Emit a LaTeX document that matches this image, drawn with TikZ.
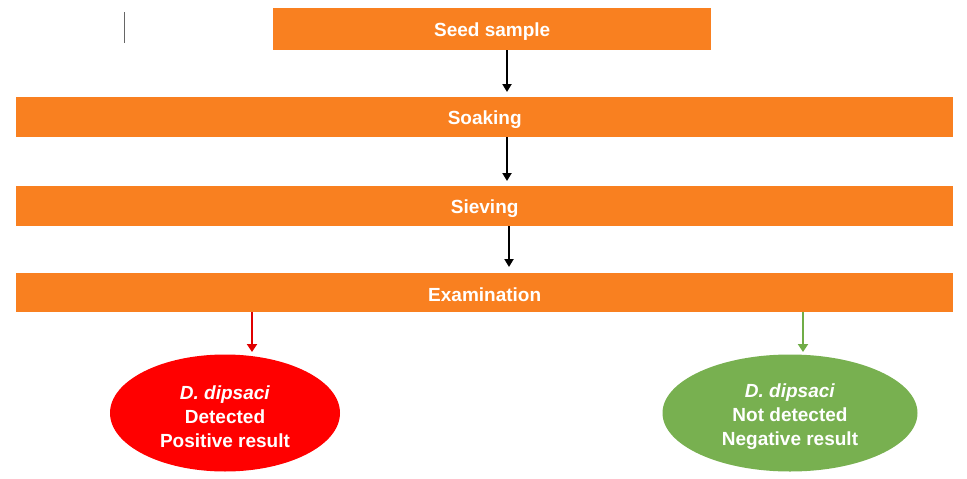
\documentclass[tikz,border=0pt]{standalone}
\usepackage{fontspec}
\setmainfont{Liberation Sans}
\usetikzlibrary{shapes.geometric,arrows.meta}
\definecolor{orng}{HTML}{F98020}
\definecolor{redfill}{HTML}{FF0000}
\definecolor{grnfill}{HTML}{78B050}
\definecolor{grnline}{HTML}{70AD47}
\definecolor{redline}{HTML}{E00000}
\newcommand{\topstrut}{\rule{0pt}{21pt}}
\begin{document}
\begin{tikzpicture}[x=1pt,y=-1pt,
  bar/.style={fill=orng,draw=none,text=white,font=\bfseries\fontsize{19}{22}\selectfont,inner sep=0pt,anchor=north west,text depth=0pt},
  oval/.style={ellipse,draw=none,text=white,align=center,font=\bfseries\fontsize{19}{24}\selectfont,inner sep=0pt},
  flow/.style={line width=2pt,-{Triangle[width=9pt,length=8pt]}}]
\useasboundingbox (0,0) rectangle (967,479);
\node[bar,minimum width=438pt,minimum height=42pt] (seed) at (273,8) {Seed sample};
\node[bar,minimum width=937pt,minimum height=40pt] (soak) at (16,97) {Soaking};
\node[bar,minimum width=937pt,minimum height=40pt] (sieve) at (16,186) {Sieving};
\node[bar,minimum width=937pt,minimum height=39pt,text height=18pt] (exam) at (16,273) {Examination};
\node[oval,fill=redfill,minimum width=230pt,minimum height=117pt] (pos) at (225,413) {\topstrut\textit{D. dipsaci}\\Detected\\Positive result};
\node[oval,fill=grnfill,minimum width=255pt,minimum height=117pt] (neg) at (790,413) {\topstrut\textit{D. dipsaci}\\Not detected\\Negative result};
\draw[gray!80!black,line width=1pt] (124,12) coordinate (c1) -- (124,43) coordinate (c2);
\coordinate (a1) at (507,92);
\coordinate (a2) at (507,181);
\coordinate (a3) at (509,267);
\draw[flow] (seed.south -| a1) -- (a1);
\draw[flow] (soak.south -| a2) -- (a2);
\draw[flow] (sieve.south -| a3) -- (a3);
\coordinate (r1) at (252,352);
\coordinate (g1) at (803,352);
\draw[flow,redline,line width=2.5pt,-{Triangle[width=10pt,length=8pt]}] (exam.south -| r1) -- (r1);
\draw[flow,grnline,line width=2.5pt,-{Triangle[width=10pt,length=8pt]}] (exam.south -| g1) -- (g1);
\end{tikzpicture}
\end{document}
